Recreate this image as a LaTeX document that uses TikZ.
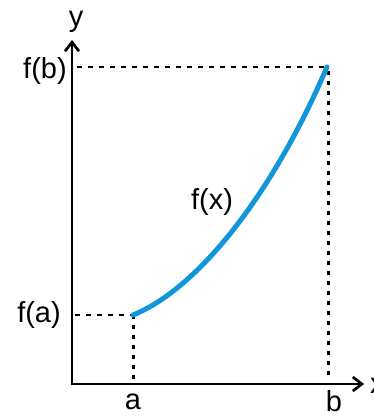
\documentclass[tikz,border=0pt]{standalone}
\usepackage{fontspec}
\setmainfont{Liberation Sans}
\usetikzlibrary{arrows.meta,positioning}
\definecolor{curveblue}{RGB}{18,150,218}
\tikzset{
  axisln/.style={{Straight Barb[length=9pt,width=14pt]}-{Straight Barb[length=9pt,width=14pt]}, line width=2.7pt},
  curveln/.style={line width=5pt, curveblue, line cap=round},
  projln/.style={dash pattern=on 5pt off 6pt, line width=2.8pt},
  dotln/.style={dash pattern=on 4pt off 6pt, line width=3pt},
  lbl/.style={font=\fontsize{29}{32}\selectfont, inner sep=0pt},
}

\begin{document}
\begin{tikzpicture}[x=1pt,y=-1pt]
        \useasboundingbox (0,0) rectangle (374,417);
        % axes and the end points of f on [a,b]
        \coordinate (O) at (72,384);
        \coordinate (ytip) at (72,40);
        \coordinate (xtip) at (364,384);
        \coordinate (A) at (133,315);
        \coordinate (B) at (327,67);
        \coordinate (Ay) at (75,315);
        \coordinate (By) at (77,67);
        \coordinate (Ax) at (133,379);
        \coordinate (Bx) at (328,379);
        \draw[axisln] (ytip) |- (xtip);
        % projections onto the axes
        \draw[projln] (Ay) -- (A);
        \draw[projln] (By) -- (B);
        \draw[dotln] (A) -- (Ax);
        \draw[dotln] (B) ++(1,4) -- (Bx);
        \draw[curveln] (A) .. controls (195,290) and (270,200) .. (B);
        \node[lbl] (ylab) at (76,22) {y};
        \node[lbl, anchor=west] (xlab) at (370,386) {x};
        \node[lbl] (fb) at (45,71) {f(b)};
        \node[lbl] (fa) at (39,315) {f(a)};
        \node[lbl] (fx) at (212,202) {f(x)};
        \node[lbl] (alab) at (133,402) {a};
        \node[lbl] (blab) at (334,401) {b};
      \end{tikzpicture}
\end{document}
